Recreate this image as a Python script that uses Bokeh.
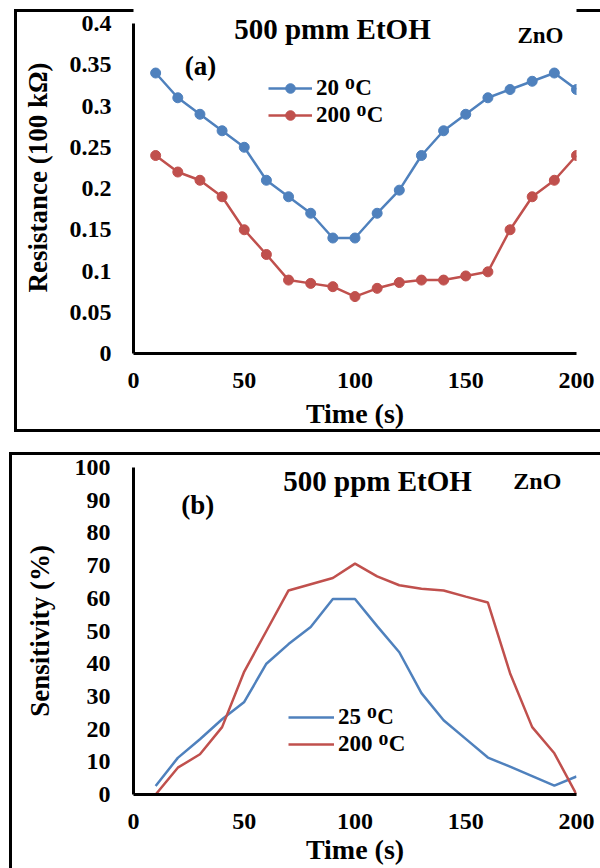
from bokeh.plotting import figure
from bokeh.layouts import column
from bokeh.models import FixedTicker, Legend, LegendItem, Label, Range1d
from bokeh.embed import file_html
from bokeh.resources import INLINE

# ---- data -------------------------------------------------------------
time_s = [10, 20, 30, 40, 50, 60, 70, 80, 90, 100,
          110, 120, 130, 140, 150, 160, 170, 180, 190, 200]

# resistance in units of 100 kOhm
res_20c = [0.34, 0.31, 0.29, 0.27, 0.25, 0.21, 0.19, 0.17, 0.14, 0.14,
           0.17, 0.198, 0.24, 0.27, 0.29, 0.31, 0.32, 0.33, 0.34, 0.32]
res_200c = [0.24, 0.22, 0.21, 0.19, 0.15, 0.12, 0.089, 0.085, 0.081, 0.069,
            0.079, 0.086, 0.089, 0.089, 0.094, 0.099, 0.15, 0.19, 0.21, 0.24]

# sensitivity in %
sens_25c = [2.6, 11.2, 16.9, 23.0, 28.3, 40.0, 46.0, 51.2, 59.8, 59.8,
            51.5, 43.5, 31.0, 22.7, 17.0, 11.3, 8.5, 5.6, 2.7, 5.5]
sens_200c = [0.0, 8.2, 12.3, 20.6, 37.6, 50.0, 62.4, 64.3, 66.2, 70.6,
             66.7, 64.0, 62.9, 62.4, 60.5, 58.7, 37.1, 20.6, 12.6, 0.0]

time_ticks = [0, 50, 100, 150, 200]
res_ticks = [0, 0.05, 0.1, 0.15, 0.2, 0.25, 0.3, 0.35, 0.4]
res_tick_labels = ["0", "0.05", "0.1", "0.15", "0.2", "0.25", "0.3", "0.35", "0.4"]
sens_ticks = [0, 10, 20, 30, 40, 50, 60, 70, 80, 90, 100]

series_a_labels = ["20 \u1D3CC", "200 \u1D3CC"]
series_b_labels = ["25 \u1D3CC", "200 \u1D3CC"]

# ---- style ------------------------------------------------------------
BLUE = "#4F81BD"
RED = "#C0504D"
SERIF = "Liberation Serif"
W = 600


def style_axes(p, left_standoff, ylabel_standoff, xlabel_standoff):
    for ax in (p.xaxis[0], p.yaxis[0]):
        ax.axis_line_width = 3
        ax.axis_line_color = "black"
        ax.major_tick_line_color = None
        ax.minor_tick_line_color = None
        ax.major_tick_out = 0
        ax.major_tick_in = 0
        ax.minor_tick_out = 0
        ax.minor_tick_in = 0
        ax.major_label_text_font = SERIF
        ax.major_label_text_font_style = "bold"
        ax.major_label_text_font_size = "24px"
        ax.major_label_text_color = "black"
        ax.major_label_text_line_height = 1.0
        ax.axis_label_text_font = SERIF
        ax.axis_label_text_font_style = "bold"
        ax.axis_label_text_color = "black"
        ax.axis_label_text_line_height = 1.0
    p.xaxis[0].axis_label_text_font_size = "28px"
    p.yaxis[0].axis_label_text_font_size = "27px"
    p.xaxis[0].major_label_standoff = 19
    p.xaxis[0].axis_label_standoff = xlabel_standoff
    p.yaxis[0].major_label_standoff = left_standoff
    p.yaxis[0].axis_label_standoff = ylabel_standoff
    p.xgrid.grid_line_color = None
    p.ygrid.grid_line_color = None
    p.outline_line_color = None
    # transparent surround so the panel frame lines painted behind show
    p.border_fill_color = None
    p.background_fill_color = "white"


def add_text(p, x, y, text, size, align="center"):
    p.add_layout(Label(x=x, y=y, text=text, text_font=SERIF,
                       text_font_style="bold", text_font_size=size,
                       text_align=align, text_baseline="alphabetic",
                       text_color="black"))


def panel_frame(left, top, bottom, width=3):
    """Open box (left, top and bottom edges) painted behind the canvas."""
    h = bottom - top
    return {
        "background-color": "white",
        "background-image": ", ".join(["linear-gradient(black, black)"] * 3),
        "background-size": f"{width}px {h + width}px, 700px {width}px, 700px {width}px",
        "background-position": f"{left}px {top}px, {left}px {top}px, {left}px {bottom}px",
        "background-repeat": "no-repeat",
    }


# ---- panel (a): resistance -------------------------------------------
# the value range runs a little above 0.4 so the heading fits in the frame;
# the axis itself is bounded to 0..0.4
pa = figure(width=W, height=442, output_backend="svg", toolbar_location=None,
            x_range=Range1d(0, 200), y_range=Range1d(0, 0.4267),
            min_border_left=133, min_border_right=24,
            min_border_top=1, min_border_bottom=89,
            x_axis_label="Time (s)", y_axis_label="Resistance (100 k\u03A9)")
style_axes(pa, 22, 14, 7)
pa.xaxis[0].ticker = FixedTicker(ticks=time_ticks)
pa.yaxis[0].ticker = FixedTicker(ticks=res_ticks)
pa.yaxis[0].bounds = (res_ticks[0], res_ticks[-1])
pa.yaxis[0].major_label_overrides = dict(zip(res_ticks, res_tick_labels))
pa.styles = panel_frame(14, 9, 429)

la1 = pa.line(time_s, res_20c, line_color=BLUE, line_width=2.5)
sa1 = pa.scatter(time_s, res_20c, marker="circle", size=10,
                 fill_color=BLUE, line_color=BLUE)
la2 = pa.line(time_s, res_200c, line_color=RED, line_width=2.5)
sa2 = pa.scatter(time_s, res_200c, marker="circle", size=10,
                 fill_color=RED, line_color=RED)

leg_a = Legend(items=[LegendItem(label=series_a_labels[0], renderers=[la1, sa1]),
                      LegendItem(label=series_a_labels[1], renderers=[la2, sa2])],
               location=(135, 225), padding=0, margin=0, spacing=1,
               glyph_width=44, glyph_height=24, label_height=24,
               label_standoff=4, border_line_color=None,
               background_fill_alpha=0,
               label_text_font=SERIF, label_text_font_style="bold",
               label_text_font_size="23px", label_text_color="black")
pa.add_layout(leg_a)

add_text(pa, 89.8, 0.393, "500 pmm EtOH", "29px")
add_text(pa, 183.7, 0.386, "ZnO", "23px")
add_text(pa, 30.2, 0.349, "(a)", "27px")

# ---- panel (b): sensitivity ------------------------------------------
pb = figure(width=W, height=426, output_backend="svg", toolbar_location=None,
            x_range=Range1d(0, 200), y_range=Range1d(0, 100),
            min_border_left=116, min_border_right=22,
            min_border_top=25, min_border_bottom=74,
            x_axis_label="Time (s)", y_axis_label="Sensitivity (%)")
style_axes(pb, 23, 17, 2)
pb.xaxis[0].ticker = FixedTicker(ticks=time_ticks)
pb.yaxis[0].ticker = FixedTicker(ticks=sens_ticks)
pb.styles = panel_frame(9, 10, 460)

lb1 = pb.line(time_s, sens_25c, line_color=BLUE, line_width=2.5)
lb2 = pb.line(time_s, sens_200c, line_color=RED, line_width=2.5)

leg_b = Legend(items=[LegendItem(label=series_b_labels[0], renderers=[lb1]),
                      LegendItem(label=series_b_labels[1], renderers=[lb2])],
               location=(155, 37), padding=0, margin=0, spacing=1,
               glyph_width=46, glyph_height=24, label_height=24,
               label_standoff=4, border_line_color=None,
               background_fill_alpha=0,
               label_text_font=SERIF, label_text_font_style="bold",
               label_text_font_size="23px", label_text_color="black")
pb.add_layout(leg_b)

add_text(pb, 110.2, 96.0, "500 ppm EtOH", "29px")
add_text(pb, 182.3, 95.8, "ZnO", "24px")
add_text(pb, 29.0, 88.4, "(b)", "27px")

layout = column(pa, pb, spacing=0)

with open("out.html", "w") as f:
    f.write(file_html(layout, INLINE))
